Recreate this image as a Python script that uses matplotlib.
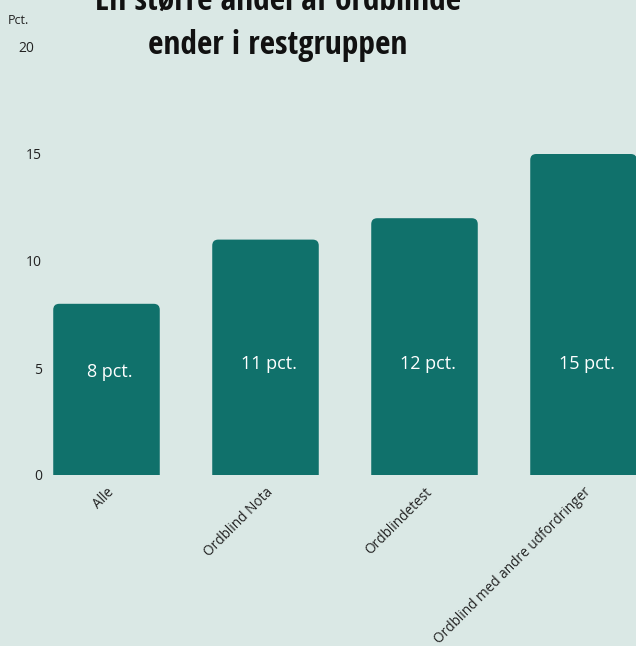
import matplotlib
matplotlib.use('Agg')
import matplotlib.pyplot as plt
from matplotlib.patches import FancyBboxPatch
import matplotlib.transforms as mtransforms

plt.rcParams['font.family'] = ['Open Sans', 'DejaVu Sans']

# Data
categories = ["Alle", "Ordblind Nota", "Ordblindetest", "Ordblind med andre udfordringer"]
values = [8, 11, 12, 15]
bar_labels = ["8 pct.", "11 pct.", "12 pct.", "15 pct."]
yticks = [0, 5, 10, 15, 20]

BG = "#dae8e5"
BAR = "#10716b"
TXT = "#222222"

fig = plt.figure(figsize=(6.36, 6.46), dpi=100, facecolor=BG)
ax = fig.add_axes([27 / 636, (646 - 475) / 646, 636 / 636, 428 / 646])
ax.set_facecolor(BG)

x = list(range(len(categories)))
width = 0.67
bars = ax.bar(x, values, width=width, color=BAR)

# rounded top corners (bottom corners pushed below the axis and clipped)
px_x = 636 / 4.0      # pixels per x unit
px_y = 428 / 20.0     # pixels per y unit
r = 6 / px_x
aspect = px_x / px_y
for b in bars:
    bx, bw, bh = b.get_x(), b.get_width(), b.get_height()
    b.set_visible(False)
    p = FancyBboxPatch((bx, -1), bw, bh + 1,
                       boxstyle=f"round,pad=0,rounding_size={r}",
                       mutation_aspect=aspect, facecolor=BAR, edgecolor='none')
    ax.add_patch(p)
    p.set_clip_path(ax.patch)

label_y = [4.8, 5.2, 5.2, 5.2]
for xi, lab, ly in zip(x, bar_labels, label_y):
    ax.text(xi + 0.02, ly, lab, color="white", ha='center', va='center', fontsize=13)

ax.set_xlim(-0.5, 3.5)
ax.set_ylim(0, 20)
ax.set_yticks(yticks)
ax.set_yticklabels([str(t) for t in yticks], fontsize=10, color=TXT)
ax.set_xticks(x)
ax.set_xticklabels(categories, rotation=45, ha='right', rotation_mode='anchor',
                   fontsize=9.8, color=TXT)
ax.tick_params(axis='y', length=0, pad=-10.8)
ax.tick_params(axis='x', length=0, pad=7)
for s in ax.spines.values():
    s.set_visible(False)

# top label sits a little further left
top = ax.get_yticklabels()[-1]
top.set_transform(top.get_transform() +
                  mtransforms.ScaledTranslation(-8 / 100, 0, fig.dpi_scale_trans))

fig.text(8 / 636, 1 - 21 / 646, "Pct.", fontsize=9, color=TXT, ha='left', va='center')
fig.text(278 / 636, 1 - 62 / 646, "En større andel af ordblinde\nender i restgruppen",
         fontsize=24, fontweight='bold', family='Open Sans Condensed',
         color="#111111", ha='center', va='bottom', linespacing=1.45)

fig.savefig("out.png", dpi=100, facecolor=BG)
